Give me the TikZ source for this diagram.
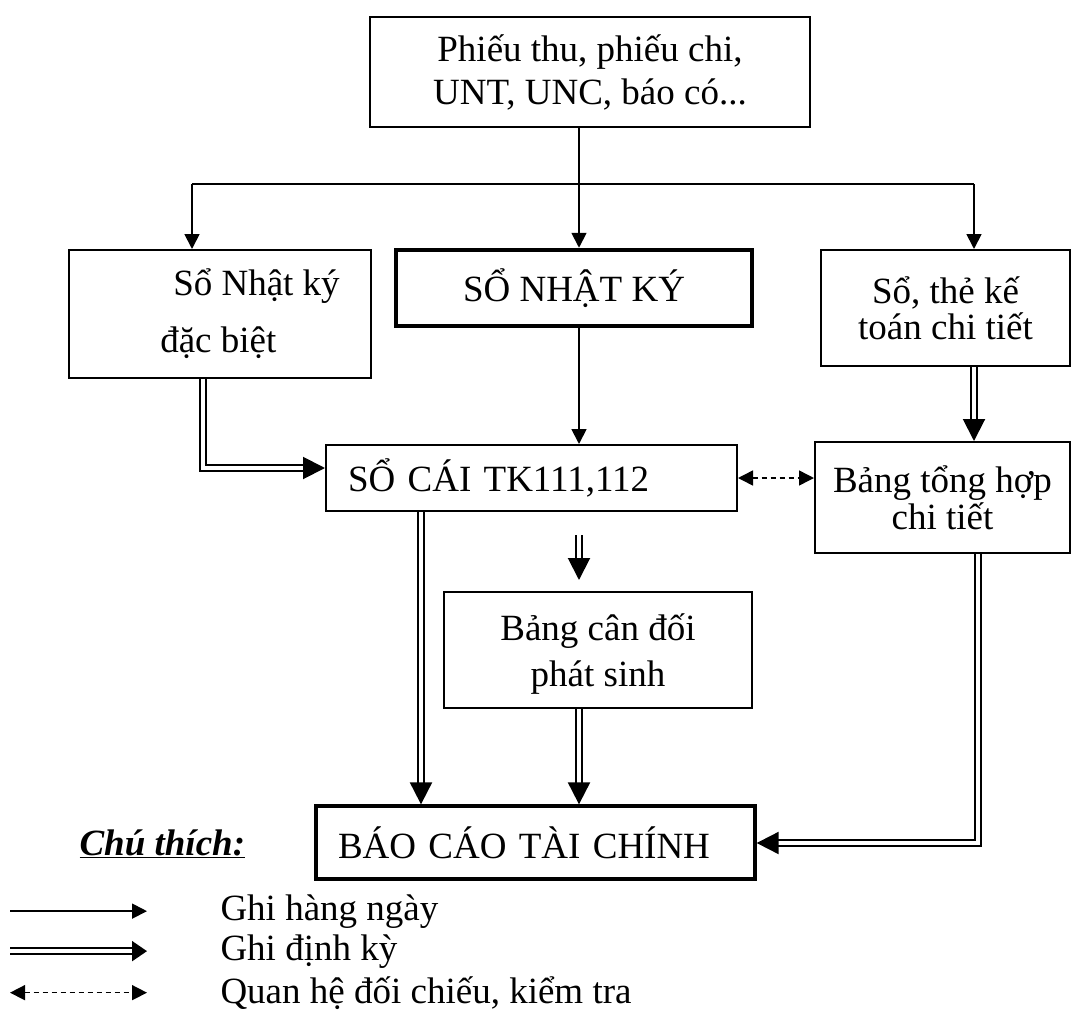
\documentclass[tikz,border=0pt]{standalone}
\usepackage{fontspec}
\setmainfont{Liberation Serif}
\usetikzlibrary{arrows.meta}

\tikzset{
  sobox/.style={draw, line width=2pt, inner sep=0pt, align=center},
  ghi/.style={line width=1.8pt, -{Triangle[length=15pt,width=15pt]}},
  dinhky/.style={line width=2pt, double, double distance=3.5pt, -{Triangle[length=22pt,width=22pt]}},
  doichieu/.style={line width=1.5pt, dash pattern=on 5pt off 4pt,
    {Triangle[length=15pt,width=15pt]}-{Triangle[length=15pt,width=15pt]}}
}

\begin{document}
\begin{tikzpicture}[x=1pt,y=-1pt]
\useasboundingbox (0,0) rectangle (1072,1010);

% draw boxes
\node[sobox, minimum width=440pt, minimum height=110pt, font=\fontsize{37}{43}\selectfont]
  (chungtu) at (590,72) {Phiếu thu, phiếu chi,\\UNT, UNC, báo có...};
\node[sobox, minimum width=302pt, minimum height=128pt, align=left, font=\fontsize{37}{57}\selectfont]
  (nkdb) at (220,314) {\hspace*{73pt}Sổ Nhật ký\\\hspace*{60pt}đặc biệt};
\node[sobox, line width=4.5pt, minimum width=356pt, minimum height=76pt, font=\fontsize{37}{42}\selectfont]
  (nhatky) at (574,288) {SỔ NHẬT KÝ};
\node[sobox, minimum width=249pt, minimum height=116pt, font=\fontsize{37}{36}\selectfont]
  (sothe) at (945.5,308) {Sổ, thẻ kế\\toán chi tiết};
\node[sobox, text width=367pt, align=left, inner xsep=22pt, minimum height=66pt, font=\fontsize{37}{42}\selectfont]
  (socai) at (531.5,478) {SỔ CÁI TK111,112};
\node[sobox, minimum width=255pt, minimum height=111pt, font=\fontsize{37}{37}\selectfont]
  (tonghop) at (942.5,497.5) {Bảng tổng hợp\\chi tiết};
\node[sobox, minimum width=308pt, minimum height=116pt, text depth=0pt, font=\fontsize{37}{46}\selectfont]
  (candoi) at (598,650) {Bảng cân đối\\phát sinh};
\node[sobox, line width=3.3pt, text width=395pt, align=left, inner xsep=22pt, minimum height=73pt, font=\fontsize{37}{42}\selectfont]
  (baocao) at (535.5,842.5) {BÁO CÁO TÀI CHÍNH};

% points where the lines turn
\coordinate (mid) at (579,184);
\coordinate (fl) at (192,184);
\coordinate (fr) at (974,184);
\coordinate (gocnk) at (203,468);
\coordinate (gocth) at (978,843);
\coordinate (trai) at (421,0);
\coordinate (f1) at (579,535);
\coordinate (f2) at (579,580);

% draw daily arrows
\draw[line width=1.8pt] (chungtu.south -| mid) -- (mid);
\draw[line width=1.8pt] (fl) -- (fr);
\draw[ghi] (fl) -- (fl |- nkdb.north);
\draw[ghi] (mid) -- (nhatky.north -| mid);
\draw[ghi] (fr) -- (fr |- sothe.north);
\draw[ghi] (nhatky.south -| mid) -- (socai.north -| mid);

% draw periodic arrows
\draw[dinhky] (nkdb.south -| gocnk) -- (gocnk) -- (socai.west |- gocnk);
\draw[dinhky] (sothe.south -| fr) -- (tonghop.north -| fr);
\draw[dinhky] (f1) -- (f2);
\draw[dinhky] (socai.south -| trai) -- (baocao.north -| trai);
\draw[dinhky] (candoi.south -| mid) -- (baocao.north -| mid);
\draw[dinhky] (tonghop.south -| gocth) -- (gocth) -- (baocao.east |- gocth);

% draw check arrow
\draw[doichieu] (socai.east) -- (tonghop.west |- socai.east);

% draw legend
\node[anchor=base west, font=\fontsize{37}{42}\selectfont\bfseries\itshape]
  (chuthich) at (76,855) {\underline{Chú thích:}};
\node[anchor=base west, font=\fontsize{37}{42}\selectfont] (l1) at (217,920) {Ghi hàng ngày};
\node[anchor=base west, font=\fontsize{37}{42}\selectfont] (l2) at (217,960) {Ghi định kỳ};
\node[anchor=base west, font=\fontsize{37}{42}\selectfont] (l3) at (217,1003) {Quan hệ đối chiếu, kiểm tra};
\draw[ghi] ([xshift=-207pt]l1.west) -- ([xshift=-70pt]l1.west);
\draw[dinhky, -{Triangle[length=15pt,width=20pt]}] ([xshift=-207pt]l2.west) -- ([xshift=-70pt]l2.west);
\draw[doichieu] ([xshift=-207pt]l3.west) -- ([xshift=-70pt]l3.west);

\end{tikzpicture}
\end{document}
